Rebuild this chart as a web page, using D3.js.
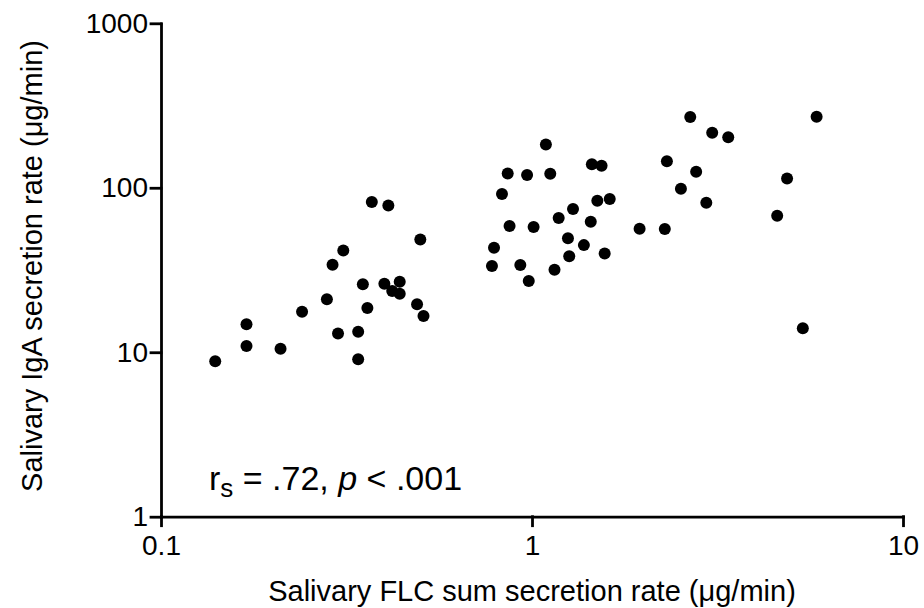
<!DOCTYPE html>
<html>
<head>
<meta charset="utf-8">
<script src="https://cdn.jsdelivr.net/npm/d3@7"></script>
<style>
  body { margin: 0; background: #fff; }
  svg { display: block; font-family: Arial, "Liberation Sans", Helvetica, sans-serif; }
</style>
</head>
<body>
<svg width="924" height="608"></svg>
<script>
// salivary FLC sum secretion rate (x) vs IgA secretion rate (y), both ug/min
const flc = [0.37, 0.41, 0.50, 0.31, 0.29, 0.35, 0.40, 0.44, 0.42, 0.44, 0.28, 0.36, 0.49, 0.51, 0.24,
             0.17, 0.17, 0.21, 0.30, 0.34, 0.34, 0.14,
             1.09, 1.45, 1.54, 0.86, 0.97, 1.12, 0.83, 1.50, 1.62, 1.29, 1.18, 1.44, 0.87, 1.01, 1.25,
             1.38, 0.79, 1.26, 1.57, 0.78, 0.93, 1.15, 0.98,
             2.67, 5.85, 3.06, 3.38, 2.31, 2.77, 4.87, 2.52, 2.95, 4.58, 1.95, 2.28, 5.37];
const iga = [82, 78, 48.5, 41.6, 34, 25.9, 26.1, 26.8, 23.6, 22.7, 21.0, 18.6, 19.6, 16.6, 17.6,
             14.8, 10.9, 10.5, 13.0, 13.3, 9.05, 8.8,
             183, 139, 136, 122, 119.5, 121.6, 91.6, 83.4, 85.4, 74.2, 65.4, 62.1, 58.5, 57.7, 49.3,
             44.8, 43.2, 38.3, 39.9, 33.4, 33.9, 31.7, 27.1,
             269, 270, 216, 203, 145, 125, 114, 98.6, 81.1, 67.6, 56.3, 56.1, 14.0];
const xTicks = [0.1, 1, 10];
const yTicks = [1, 10, 100, 1000];

const svg = d3.select('svg');

const x = d3.scaleLog().domain([0.1, 10]).range([161, 903]);
const y = d3.scaleLog().domain([1, 1000]).range([516.7, 23.3]);

const xAxis = svg.append('g')
    .attr('transform', 'translate(0,516.7)')
    .call(d3.axisBottom(x).tickValues(xTicks).tickFormat(d => d).tickSize(9).tickSizeOuter(0).tickPadding(9));

const yAxis = svg.append('g')
    .attr('transform', 'translate(161,0)')
    .call(d3.axisLeft(y).tickValues(yTicks).tickFormat(d => d).tickSize(10).tickSizeOuter(0).tickPadding(3));

[xAxis, yAxis].forEach(g => {
    g.selectAll('path, line')
        .style('stroke', '#000')
        .style('stroke-width', 2.8)
        .style('stroke-linecap', 'square');
    g.selectAll('text')
        .style('font-family', 'Arial, "Liberation Sans", sans-serif')
        .style('font-size', '28px')
        .style('fill', '#000');
});

svg.selectAll('circle.pt')
    .data(flc.map((d, i) => ({ flc: d, iga: iga[i] })))
    .enter()
    .append('circle')
    .attr('class', 'pt')
    .attr('cx', d => x(d.flc))
    .attr('cy', d => y(d.iga))
    .attr('r', 6)
    .style('fill', '#000');

// axis titles
svg.append('text')
    .attr('x', 532)
    .attr('y', 601)
    .attr('text-anchor', 'middle')
    .style('font-size', '29px')
    .text('Salivary FLC sum secretion rate (\u03bcg/min)');

svg.append('text')
    .attr('transform', 'translate(42,266) rotate(-90)')
    .attr('text-anchor', 'middle')
    .style('font-size', '29px')
    .text('Salivary IgA secretion rate (\u03bcg/min)');

// correlation note
const note = svg.append('text')
    .attr('x', 209)
    .attr('y', 490)
    .style('font-size', '34px');
note.append('tspan').text('r');
note.append('tspan').attr('dy', 7).style('font-size', '26px').text('s');
note.append('tspan').attr('dy', -7).text(' = .72, ');
note.append('tspan').style('font-style', 'italic').text('p');
note.append('tspan').text(' < .001');
</script>
</body>
</html>
